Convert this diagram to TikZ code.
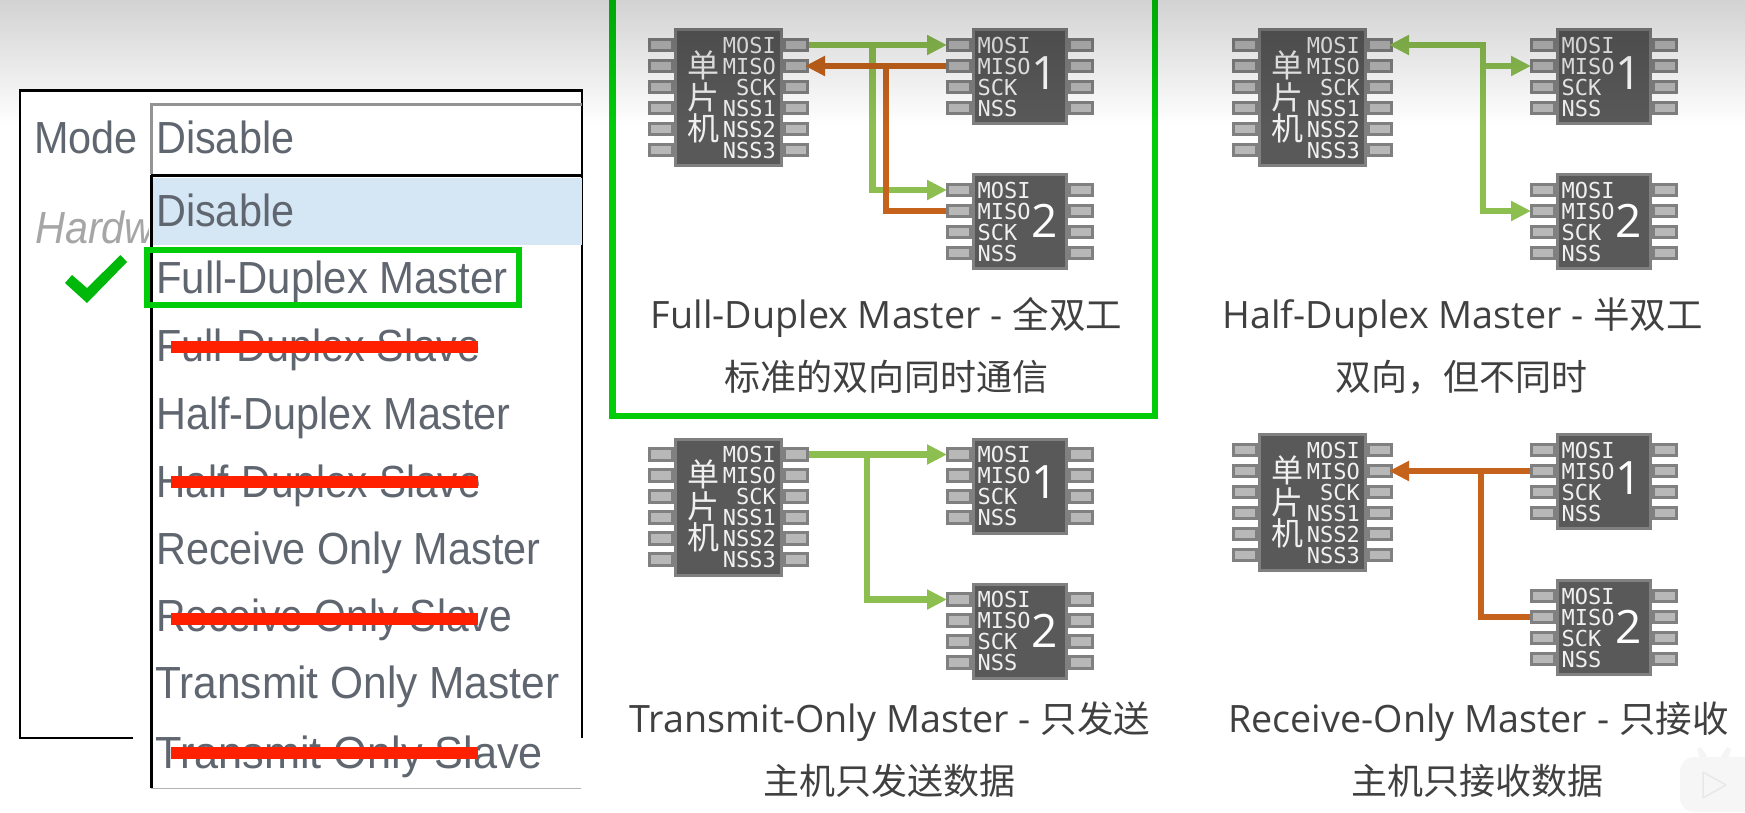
\documentclass[tikz,border=0pt]{standalone}
\usepackage{fontspec}
\usetikzlibrary{arrows.meta}
\setmainfont{Open Sans}
\newfontfamily\cjk{Noto Sans CJK SC}
\newfontfamily\chipmono{DejaVu Sans Mono}
\newfontfamily\ui[FakeStretch=0.92]{Liberation Sans}
\definecolor{chipfill}{HTML}{595959}
\definecolor{chipedge}{HTML}{808080}
\definecolor{pinfill}{HTML}{B8B8B8}
\definecolor{wiregreen}{HTML}{8CBF50}
\definecolor{wireorange}{HTML}{C5631C}
\definecolor{framegreen}{HTML}{00CC0A}
\definecolor{uitext}{HTML}{60666F}
\definecolor{captext}{HTML}{404040}
\definecolor{hilite}{HTML}{D5E6F5}
\definecolor{redbar}{HTML}{FF2000}
\newcommand{\capcjk}[1]{{\fontsize{36.5}{40}\cjk\selectfont #1}}
\tikzset{
  x=1pt,y=-1pt,
  chipbody/.style={draw=chipedge,fill=chipfill,line width=3pt,inner sep=0pt,anchor=north west},
  chippin/.style={draw=chipedge,fill=pinfill,line width=3pt,inner sep=0pt,minimum width=23pt,minimum height=11.5pt},
  pinlabel/.style={inner sep=0pt,text=white!94!black,font=\fontsize{22}{24}\chipmono\selectfont},
  chipcjk/.style={inner sep=0pt,text=white!94!black,font=\fontsize{32}{34}\cjk\selectfont},
  chipnum/.style={inner sep=0pt,text=white,font=\fontsize{46}{48}\selectfont},
  caption/.style={inner sep=0pt,anchor=base,text=captext,font=\fontsize{37.7}{40}\selectfont},
  captwo/.style={inner sep=0pt,anchor=base,text=captext,font=\fontsize{36}{40}\cjk\selectfont},
  uiitem/.style={inner sep=0pt,anchor=base west,text=uitext,font=\fontsize{45}{48}\ui\selectfont},
  wire/.style={line width=6.2pt,line join=miter},
  tohead/.style={-{Triangle[length=20pt,width=19pt]},shorten >=-1pt},
  tomcu/.style={-{Triangle[length=20pt,width=19pt]},shorten >=-4pt},
  strike/.style={fill=redbar},
}
\newcommand{\mcuchip}[3]{%
  \node[chipbody,minimum width=106pt,minimum height=136pt] (#1body) at (#2,#3) {};
  \foreach \i/\t in {0/1,1/2,2/3,3/4,4/5,5/6}{
    \node[chippin] (#1l\t) at (#2-13,#3+17+21*\i) {};
    \node[chippin] (#1r\t) at (#2+122,#3+17+21*\i) {};
  }
  \foreach \i/\t/\s in {0/MOSI/a,1/MISO/b,2/SCK/c,3/NSS1/d,4/NSS2/e,5/NSS3/f}{
    \node[pinlabel,anchor=base east] (#1t\s) at (#2+102,#3+25+21*\i) {\t};
  }
  \node[chipcjk] (#1c1) at (#2+29.5,#3+37) {单};
  \node[chipcjk] (#1c2) at (#2+29.5,#3+69) {片};
  \node[chipcjk] (#1c3) at (#2+29.5,#3+100) {机};
}
% name, x, y, digit, digit y offset
\newcommand{\slavechip}[5]{%
  \node[chipbody,minimum width=93pt,minimum height=94pt] (#1body) at (#2,#3) {};
  \foreach \i/\t in {0/1,1/2,2/3,3/4}{
    \node[chippin] (#1l\t) at (#2-13,#3+17+21*\i) {};
    \node[chippin] (#1r\t) at (#2+109,#3+17+21*\i) {};
  }
  \foreach \i/\t/\s in {0/MOSI/a,1/MISO/b,2/SCK/c,3/NSS/d}{
    \node[pinlabel,anchor=base west] (#1t\s) at (#2+5.5,#3+25+21*\i) {\t};
  }
  \node[chipnum] (#1num) at (#2+72.5,#3+#5) {#4};
}
\begin{document}
\begin{tikzpicture}
\useasboundingbox (0,0) rectangle (1745,812);
\begin{scope}
\clip (0,0) rectangle (1745,812);
\fill[white] (0,0) rectangle (1745,812);

% Full-duplex
\mcuchip{fm}{674}{28}
\slavechip{fa}{972}{28}{1}{45}
\slavechip{fb}{972}{173}{2}{48}
\coordinate (fgj) at (872.5,45);
\coordinate (foj) at (886,66);
\draw[wire,wiregreen,tohead] (fmr1.east) -- (fal1.west);
\draw[wire,wiregreen,tohead] (fgj) |- (fbl1.west);
\draw[wire,wireorange,tomcu] (fal2.west) -- (fmr2.east);
\draw[wire,wireorange] (foj) |- (fbl2.west);
\node[caption] (fcap1) at (886.5,328) {Full-Duplex Master - \capcjk{全双工}};
\node[captwo] (fcap2) at (886,390) {标准的双向同时通信};

% Half-duplex
\mcuchip{hm}{1258}{28}
\slavechip{ha}{1556}{28}{1}{45}
\slavechip{hb}{1556}{173}{2}{48}
\coordinate (hgj) at (1483,66);
\draw[wire,wiregreen,tomcu] (hgj) |- (hmr1.east);
\draw[wire,wiregreen,tohead] (hgj) -- (hal2.west);
\draw[wire,wiregreen,tohead] (hgj) |- (hbl2.west);
\node[caption] (hcap1) at (1462.5,328) {Half-Duplex Master - \capcjk{半双工}};
\node[captwo] (hcap2) at (1461,390) {双向，但不同时};

% Transmit only
\mcuchip{tm}{674}{437.5}
\slavechip{ta}{972}{437.5}{1}{45}
\slavechip{tb}{972}{582.5}{2}{48}
\coordinate (tgj) at (867,454.5);
\draw[wire,wiregreen,tohead] (tmr1.east) -- (tal1.west);
\draw[wire,wiregreen,tohead] (tgj) |- (tbl1.west);
\node[caption] (tcap1) at (890,732) {Transmit-Only Master - \capcjk{只发送}};
\node[captwo] (tcap2) at (889,794) {主机只发送数据};

% Receive only
\mcuchip{rm}{1258}{433}
\slavechip{ra}{1556}{433}{1}{45}
\slavechip{rb}{1556}{579}{2}{48}
\coordinate (roj) at (1481,471);
\draw[wire,wireorange,tomcu] (ral2.west) -- (rmr2.east);
\draw[wire,wireorange] (roj) |- (rbl2.west);
\node[caption] (rcap1) at (1478.5,732) {Receive-Only Master - \capcjk{只接收}};
\node[captwo] (rcap2) at (1477,794) {主机只接收数据};

% green selection frame
\draw[framegreen,line width=6.5pt] (612.3,-10) -- (612.3,416) -- (1155,416) -- (1155,-10);

% top gradient
\foreach \i in {0,...,124}{
  \pgfmathsetmacro{\op}{0.175*(1-\i/125)}
  \fill[black,fill opacity=\op] (0,\i) rectangle (1745,\i+1);
}

% left panel
\fill[white] (20,90) rectangle (582,738);
\fill[white] (133,738) rectangle (582,788);
\draw[black,line width=2.2pt] (133,738) -- (20,738) -- (20,90.5) -- (582,90.5) -- (582,738);
\draw[gray!85,line width=3pt] (582,104) -- (151,104) -- (151,174);
\fill[hilite] (152,178) rectangle (582,245);
\draw[black,line width=2.6pt] (582,175.5) -- (151,175.5);
\draw[black,line width=3pt] (151,175) -- (151,788);
\draw[gray!60,line width=1pt] (151,788) -- (581,788);

\node[uiitem] (mode) at (34,153) {Mode};
\begin{scope}
\clip (30,200) rectangle (148,260);
\node[uiitem,text=gray!70,font=\fontsize{45}{48}\itshape\ui\selectfont] (hard) at (35,243) {Hardw};
\end{scope}
\node[uiitem] (i0) at (156,153) {Disable};
\node[uiitem] (i1) at (156,226) {Disable};
\node[uiitem] (i2) at (156,293.5) {\scalebox{1.012}[1]{Full-Duplex Master}};
\node[uiitem] (i3) at (156,361) {Full-Duplex Slave};
\node[uiitem] (i4) at (156,429) {Half-Duplex Master};
\node[uiitem] (i5) at (156,497) {\scalebox{0.98}[1]{Half-Duplex Slave}};
\node[uiitem] (i6) at (156,564) {Receive Only Master};
\node[uiitem] (i7) at (156,631) {\scalebox{0.985}[1]{Receive Only Slave}};
\node[uiitem] (i8) at (155,698) {\scalebox{1.025}[1]{Transmit Only Master}};
\node[uiitem] (i9) at (155,768) {\scalebox{1.045}[1]{Transmit Only Slave}};

\fill[strike] (171,341) rectangle (478,353);
\fill[strike] (171,476) rectangle (478,488);
\fill[strike] (171,613) rectangle (478,625);
\fill[strike] (171,747) rectangle (478,759);
\draw[framegreen,line width=6pt] (147,250) rectangle (519,305);
\fill[framegreen!90!black] (65,283) -- (87,303) -- (127,262) -- (120.5,255) -- (87,288) -- (72,275) -- cycle;

% watermark
\fill[black!4] (1697,749) -- (1701,747) -- (1708,758) -- (1700,760) -- cycle;
\fill[black!4] (1731,749) -- (1727,747) -- (1720,758) -- (1728,760) -- cycle;
\fill[black!3.5,rounded corners=14pt] (1680,757) rectangle (1760,812);
\draw[black!9,line width=1.5pt,line join=round] (1703,772) -- (1726,785) -- (1703,798) -- cycle;
\end{scope}
\end{tikzpicture}
\end{document}
